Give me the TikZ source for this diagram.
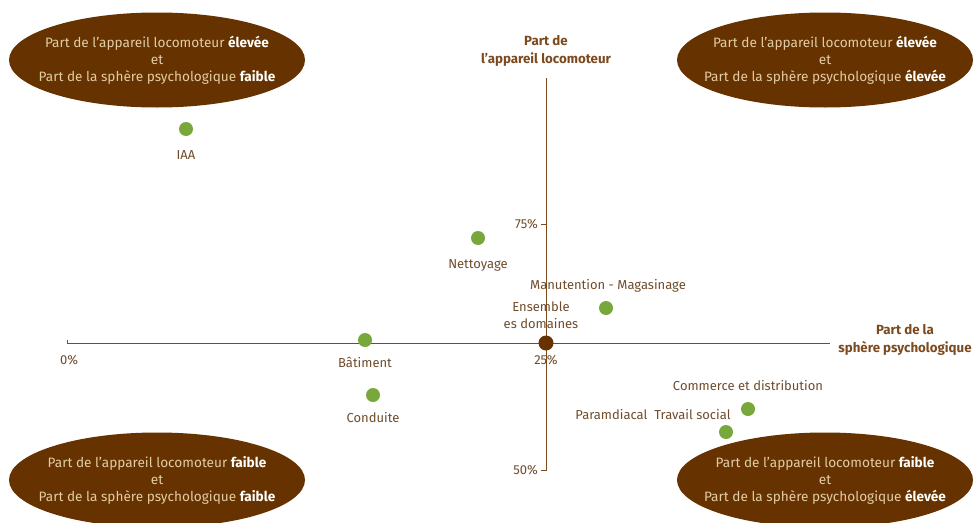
\documentclass[tikz,border=0pt]{standalone}
\usepackage{fontspec}
\setmainfont{Fira Sans}
\usepackage{tikz}
\usetikzlibrary{shapes.geometric,positioning}
\definecolor{axisbrown}{HTML}{7B4A1F}
\definecolor{textbrown}{HTML}{6E4C2C}
\definecolor{darkbrown}{HTML}{663300}
\definecolor{beige}{HTML}{E2CCA6}
\definecolor{dotgreen}{HTML}{78A83C}

\begin{document}
\begin{tikzpicture}[x=1pt,y=-1pt,
	axisline/.style={draw=axisbrown,line width=0.8pt},
	dot/.style={circle,fill=dotgreen,minimum size=14pt,inner sep=0pt},
	meandot/.style={circle,fill=darkbrown,minimum size=15pt,inner sep=0pt},
	lbl/.style={text=textbrown,font=\fontsize{13}{17}\selectfont,inner sep=0pt,align=center},
	axistitle/.style={text=axisbrown,font=\fontsize{13.3}{18}\selectfont\bfseries,inner sep=0pt,align=center},
	zone/.style={ellipse,fill=darkbrown,minimum width=296pt,minimum height=95pt,inner sep=0pt},
	zonetext/.style={text=beige,font=\fontsize{13.6}{17}\selectfont,inner sep=0pt,align=center}]
	\useasboundingbox (0,0) rectangle (979,522);

	% draw the four zones
	\node[zone] (hl) at (157,60) {};
	\node[zone] (hh) at (825,60) {};
	\node[zone] (ll) at (157,480) {};
	\node[zone] (lh) at (825,480) {};
	\node[zonetext] at (hl) {Part de l’appareil locomoteur \textcolor{white}{\bfseries élevée}\\et\\Part de la sphère psychologique \textcolor{white}{\bfseries faible}};
	\node[zonetext] at (hh) {Part de l'appareil locomoteur \textcolor{white}{\bfseries élevée}\\et\\Part de la sphère psychologique \textcolor{white}{\bfseries élevée}};
	\node[zonetext] at (ll) {Part de l'appareil locomoteur \textcolor{white}{\bfseries faible}\\et\\Part de la sphère psychologique \textcolor{white}{\bfseries faible}};
	\node[zonetext] at (lh) {Part de l'appareil locomoteur \textcolor{white}{\bfseries faible}\\et\\Part de la sphère psychologique \textcolor{white}{\bfseries élevée}};

	% draw the axes
	\coordinate (xmin) at (67,343);
	\coordinate (xmax) at (830,343);
	\coordinate (ytop) at (546,78);
	\coordinate (ybot) at (546,470);
	\coordinate (y75) at (546,224);
	\draw[axisline] ([yshift=3pt]xmin) -- (xmin) -- (xmax);
	\draw[axisline] (ytop) -- (ybot) -- ([xshift=-5pt]ybot);
	\draw[axisline] (y75) -- ([xshift=-5pt]y75);
	\node[lbl,anchor=east] at ([xshift=-8pt]y75) {75\%};
	\node[lbl,anchor=east] at ([xshift=-8pt]ybot) {50\%};
	\node[lbl] at ([yshift=-17pt,xshift=2pt]xmin) {0\%};
	\node[lbl] at (546,360) {25\%};
	\node[axistitle] at (546,51) {Part de\\l'appareil locomoteur};
	\node[axistitle] at (905,340) {Part de la\\sphère psychologique};

	% draw the sectors
	\node[dot] (iaa) at (186,129) {};
	\node[lbl] at ([yshift=-26pt]iaa) {IAA};
	\node[dot] (nett) at (478,238) {};
	\node[lbl] at ([yshift=-27pt]nett) {Nettoyage};
	\node[dot] (manu) at (606,308) {};
	\node[lbl] at ([yshift=22pt,xshift=2pt]manu) {Manutention - Magasinage};
	\node[dot] (bat) at (365,340) {};
	\node[lbl] at ([yshift=-22pt]bat) {Bâtiment};
	\node[dot] (cond) at (373,395) {};
	\node[lbl] at ([yshift=-23pt]cond) {Conduite};
	\node[dot] (comm) at (748,409) {};
	\node[lbl] at ([yshift=23pt]comm) {Commerce et distribution};
	\node[dot] (trav) at (726,432) {};
	\node[lbl] at (653,415) {Paramdiacal\ \ Travail social};
	\node[meandot] (ens) at (546,343) {};
	\node[lbl] at (541,315) {Ensemble\\es domaines};
\end{tikzpicture}
\end{document}
